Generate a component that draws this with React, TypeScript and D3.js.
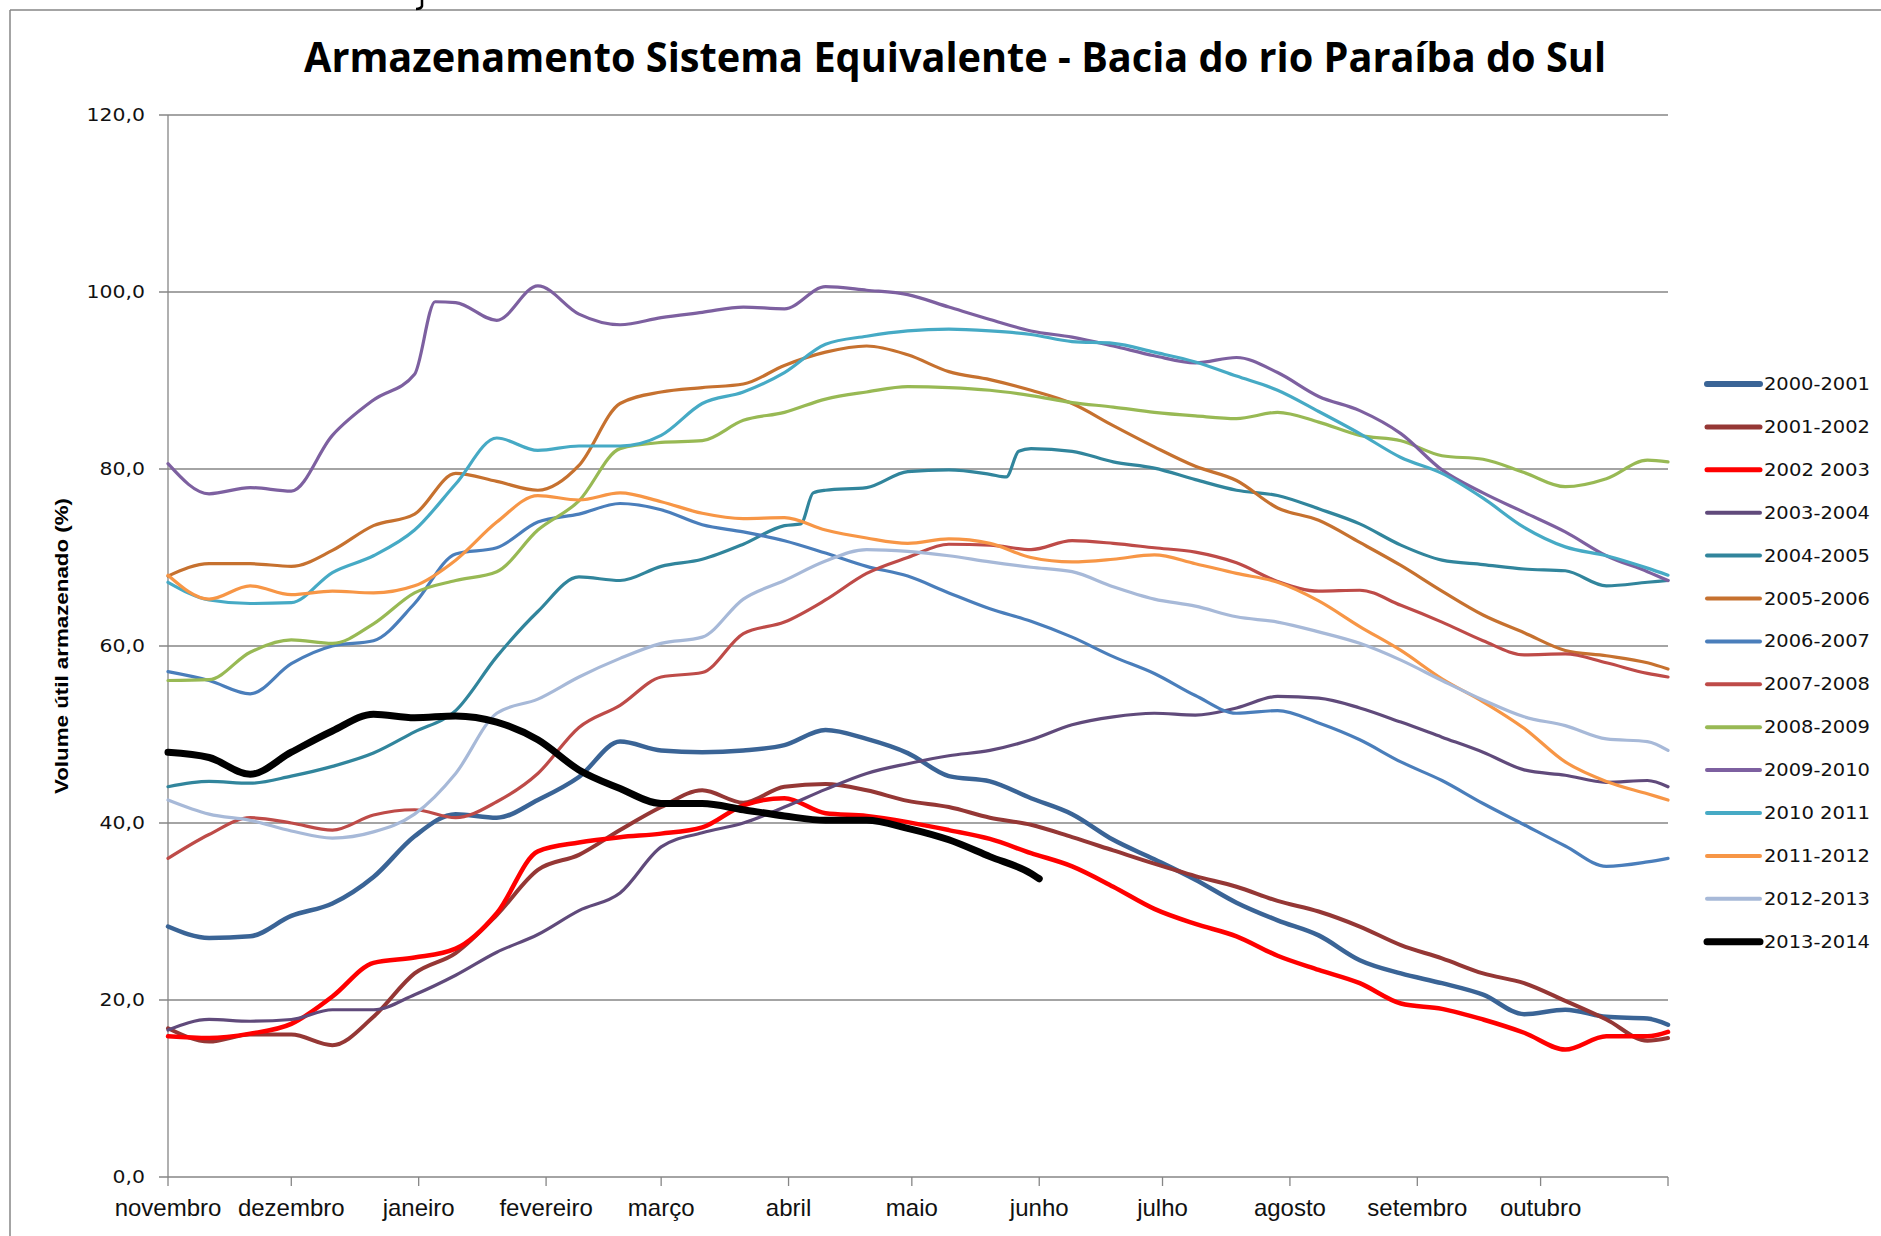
import React from "react";
import * as d3 from "d3";

// meses do ano hidrológico (novembro a outubro)
const meses = ["novembro", "dezembro", "janeiro", "fevereiro", "março", "abril", "maio", "junho", "julho", "agosto", "setembro", "outubro"];

// dias contados a partir de 1º de novembro
const dias = [0, 10, 20, 30, 40, 50, 60, 70, 80, 90, 100, 110, 120, 130, 140, 150, 160, 170, 180, 190, 200, 210, 220, 230, 240, 250, 260, 270, 280, 290, 300, 310, 320, 330, 340, 350, 360, 365];
const dias2004 = [0, 10, 20, 30, 40, 50, 60, 70, 80, 90, 100, 110, 120, 130, 140, 150, 154, 157, 160, 170, 180, 190, 200, 204, 207, 210, 220, 230, 240, 250, 260, 270, 280, 290, 300, 310, 320, 330, 340, 350, 360, 365];
const dias2009 = [0, 10, 20, 30, 40, 50, 60, 65, 70, 80, 90, 100, 110, 120, 130, 140, 150, 160, 170, 180, 190, 200, 210, 220, 230, 240, 250, 260, 270, 280, 290, 300, 310, 320, 330, 340, 350, 360, 365];
const dias2013 = [0, 10, 20, 30, 40, 50, 60, 70, 80, 90, 100, 110, 120, 130, 140, 150, 160, 170, 180, 190, 200, 210, 212];

const anos = ["2000-2001", "2001-2002", "2002 2003", "2003-2004", "2004-2005", "2005-2006", "2006-2007", "2007-2008", "2008-2009", "2009-2010", "2010 2011", "2011-2012", "2012-2013", "2013-2014"];

// volume útil armazenado (%)
const v2000 = [28.3, 27.0, 27.2, 29.5, 30.9, 33.9, 38.5, 41.0, 40.6, 42.6, 45.2, 49.2, 48.2, 48.0, 48.2, 48.8, 50.5, 49.5, 47.9, 45.3, 44.7, 42.8, 41.0, 38.1, 35.9, 33.6, 31.0, 29.0, 27.3, 24.5, 23.0, 21.9, 20.6, 18.4, 18.9, 18.1, 17.9, 17.2];
const v2001 = [16.8, 15.3, 16.1, 16.1, 14.9, 18.1, 23.0, 25.3, 29.6, 34.7, 36.4, 39.2, 41.8, 43.7, 42.3, 44.1, 44.4, 43.7, 42.5, 41.8, 40.6, 39.8, 38.4, 36.9, 35.4, 34.0, 32.8, 31.2, 30.0, 28.3, 26.2, 24.7, 23.0, 21.9, 19.9, 17.8, 15.4, 15.7];
const v2002 = [15.9, 15.7, 16.2, 17.3, 20.4, 24.2, 24.8, 25.8, 29.8, 36.8, 37.8, 38.4, 38.8, 39.5, 42.0, 42.8, 41.1, 40.8, 40.1, 39.2, 38.2, 36.6, 35.1, 32.8, 30.3, 28.6, 27.2, 25.0, 23.4, 21.9, 19.6, 19.0, 17.8, 16.3, 14.4, 15.9, 15.9, 16.4];
const v2003 = [16.6, 17.8, 17.6, 17.8, 18.9, 18.9, 20.6, 22.8, 25.4, 27.4, 30.1, 32.1, 37.3, 38.9, 40.0, 41.8, 43.8, 45.6, 46.7, 47.6, 48.2, 49.4, 51.1, 52.0, 52.4, 52.2, 53.0, 54.3, 54.1, 53.0, 51.4, 49.7, 48.0, 46.0, 45.4, 44.6, 44.8, 44.1];
const v2004 = [44.1, 44.7, 44.5, 45.3, 46.4, 47.9, 50.3, 52.7, 58.8, 63.9, 67.8, 67.4, 69.0, 69.8, 71.5, 73.6, 73.8, 77.3, 77.6, 77.9, 79.7, 79.9, 79.4, 79.1, 82.0, 82.3, 82.0, 80.8, 80.1, 78.8, 77.6, 77.0, 75.5, 73.8, 71.4, 69.7, 69.2, 68.7, 68.5, 66.8, 67.2, 67.4];
const v2005 = [67.9, 69.3, 69.3, 69.0, 70.8, 73.6, 74.9, 79.5, 78.6, 77.6, 80.4, 87.4, 88.7, 89.2, 89.6, 91.7, 93.2, 93.9, 92.9, 91.0, 90.1, 88.9, 87.4, 84.9, 82.5, 80.3, 78.7, 75.6, 74.2, 71.7, 69.1, 66.2, 63.5, 61.5, 59.5, 58.9, 58.1, 57.4];
const v2006 = [57.1, 56.1, 54.6, 58.0, 60.0, 60.6, 64.8, 70.4, 71.1, 74.0, 74.9, 76.1, 75.4, 73.7, 72.9, 71.9, 70.5, 69.0, 67.9, 66.0, 64.2, 62.8, 61.0, 58.8, 56.9, 54.4, 52.4, 52.7, 51.3, 49.4, 46.9, 44.8, 42.2, 39.8, 37.4, 35.1, 35.6, 36.0];
const v2007 = [36.0, 38.7, 40.6, 40.0, 39.2, 40.9, 41.5, 40.6, 42.4, 45.6, 50.8, 53.3, 56.5, 57.0, 61.4, 62.7, 65.2, 68.2, 70.0, 71.5, 71.4, 70.9, 71.9, 71.6, 71.1, 70.6, 69.4, 67.3, 66.2, 66.3, 64.6, 62.7, 60.6, 59.0, 59.1, 58.1, 56.9, 56.5];
const v2008 = [56.1, 56.2, 59.3, 60.7, 60.3, 62.5, 66.0, 67.4, 68.4, 73.1, 76.4, 82.3, 83.0, 83.2, 85.5, 86.4, 87.9, 88.7, 89.3, 89.2, 88.9, 88.3, 87.5, 87.0, 86.4, 86.0, 85.7, 86.4, 85.3, 83.8, 83.2, 81.5, 81.1, 79.6, 78.0, 78.9, 81.0, 80.8];
const v2009 = [80.6, 77.2, 77.9, 77.5, 83.8, 87.8, 90.7, 98.9, 98.8, 96.8, 100.7, 97.5, 96.3, 97.1, 97.7, 98.3, 98.1, 100.6, 100.2, 99.7, 98.3, 96.9, 95.6, 94.9, 93.9, 92.8, 92.0, 92.6, 90.9, 88.2, 86.6, 84.0, 79.9, 77.3, 75.1, 72.9, 70.2, 68.4, 67.4];
const v2010 = [67.2, 65.2, 64.8, 64.9, 68.3, 70.2, 73.1, 78.3, 83.5, 82.1, 82.6, 82.6, 83.8, 87.4, 88.7, 90.9, 94.1, 95.0, 95.6, 95.8, 95.6, 95.2, 94.4, 94.2, 93.2, 92.1, 90.5, 88.9, 86.5, 84.0, 81.3, 79.5, 76.7, 73.4, 71.2, 70.2, 68.8, 68.0];
const v2011 = [68.0, 65.3, 66.8, 65.8, 66.2, 66.0, 66.8, 69.7, 74.0, 77.0, 76.5, 77.3, 76.3, 75.0, 74.4, 74.5, 73.1, 72.2, 71.6, 72.1, 71.6, 70.0, 69.5, 69.8, 70.3, 69.3, 68.2, 67.2, 65.1, 62.2, 59.5, 56.3, 53.7, 50.7, 46.9, 44.7, 43.3, 42.6];
const v2012 = [42.6, 41.0, 40.3, 39.1, 38.3, 39.0, 41.0, 45.6, 52.4, 54.0, 56.5, 58.6, 60.3, 61.0, 65.3, 67.4, 69.6, 70.9, 70.7, 70.2, 69.5, 68.9, 68.4, 66.7, 65.3, 64.5, 63.3, 62.7, 61.6, 60.3, 58.4, 56.1, 53.9, 52.0, 51.0, 49.5, 49.2, 48.2];
const v2013 = [48.0, 47.4, 45.5, 48.0, 50.4, 52.3, 51.9, 52.1, 51.4, 49.4, 46.0, 43.9, 42.2, 42.2, 41.5, 40.8, 40.3, 40.3, 39.4, 38.1, 36.2, 34.3, 33.7];

const valores = [v2000, v2001, v2002, v2003, v2004, v2005, v2006, v2007, v2008, v2009, v2010, v2011, v2012, v2013];
const diasSerie = [dias, dias, dias, dias, dias2004, dias, dias, dias, dias, dias2009, dias, dias, dias, dias2013];

const cores = ["#3A6496", "#953735", "#FF0000", "#604A7B", "#31859C", "#C6712F", "#4A7EBB", "#BE4B48", "#98B954", "#7D60A0", "#46AAC5", "#F79646", "#A7B9D8", "#000000"];
const espessuras = [4.5, 4, 4.5, 3.2, 3.2, 3.2, 3.2, 3.2, 3.2, 3.2, 3.2, 3.2, 3.2, 7];
const espessurasLegenda = [6, 5, 5, 4, 4, 4, 4, 4, 4, 4, 4, 4, 4, 7];

const W = 1881;
const H = 1236;
const margem = { left: 168, right: 1668, top: 115, bottom: 1177 };

const inicio = new Date(Date.UTC(2013, 10, 1));
const fim = new Date(Date.UTC(2014, 10, 1));

const x = d3.scaleUtc().domain([inicio, fim]).range([margem.left, margem.right]);
const y = d3.scaleLinear().domain([0, 120]).range([margem.bottom, margem.top]);

const br = d3.formatLocale({ decimal: ",", thousands: ".", grouping: [3], currency: ["R$", ""] });
const fmt = br.format(".1f");

const linha = d3
  .line<[number, number]>()
  .x((d) => x(d3.utcDay.offset(inicio, d[0])))
  .y((d) => y(d[1]))
  .curve(d3.curveMonotoneX);

const GRID = "#868686";

export default function App() {
  const marcasMes = d3.utcMonth.range(inicio, fim).concat([fim]);
  const yTicks = y.ticks(6);

  return (
    <div>
      <style>{`body{margin:0;background:#fff}`}</style>
      <svg width={W} height={H} style={{ display: "block", background: "#fff" }}>
        {/* moldura recortada */}
        <line x1={10} x2={W} y1={10} y2={10} stroke={GRID} strokeWidth={1.5} />
        <line x1={10} x2={10} y1={10} y2={H} stroke={GRID} strokeWidth={1.5} />
        <path d="M422,0 L422,6 Q421,9 416,9" fill="none" stroke="#000" strokeWidth={2.5} />

        <text
          x={955}
          y={72}
          textAnchor="middle"
          fontFamily="'Open Sans', 'Liberation Sans', sans-serif"
          fontWeight="bold"
          fontSize={41}
          textLength={1302}
          lengthAdjust="spacingAndGlyphs"
        >
          Armazenamento Sistema Equivalente - Bacia do rio Paraíba do Sul
        </text>

        {/* grade horizontal e eixo y */}
        {yTicks.map((t) => (
          <g key={t}>
            <line x1={margem.left - 9} x2={margem.right} y1={y(t)} y2={y(t)} stroke={GRID} strokeWidth={1.3} />
            <text
              transform={`translate(145,${y(t)}) scale(1.2,1)`}
              textAnchor="end"
              dominantBaseline="central"
              fontFamily="'DejaVu Sans', Verdana, sans-serif"
              fontSize={17}
              fill="#111"
            >
              {fmt(t)}
            </text>
          </g>
        ))}
        <line x1={margem.left} x2={margem.left} y1={margem.top} y2={margem.bottom} stroke={GRID} strokeWidth={1.3} />

        <text
          transform={`translate(68,646) rotate(-90)`}
          textAnchor="middle"
          fontFamily="'Liberation Sans', Arial, sans-serif"
          fontWeight="bold"
          fontSize={19}
          textLength={296}
          lengthAdjust="spacingAndGlyphs"
        >
          Volume útil armazenado (%)
        </text>

        {/* eixo x */}
        {marcasMes.map((d, i) => (
          <line key={i} x1={x(d)} x2={x(d)} y1={margem.bottom} y2={margem.bottom + 9} stroke={GRID} strokeWidth={1.3} />
        ))}
        {meses.map((m, i) => (
          <text
            key={m}
            x={x(marcasMes[i])}
            y={1216}
            textAnchor="middle"
            fontFamily="'Liberation Sans', Arial, sans-serif"
            fontSize={24}
            fill="#111"
          >
            {m}
          </text>
        ))}

        {/* séries */}
        {valores.map((vals, i) => {
          const ds = diasSerie[i];
          const pts = vals.map((v, j) => [ds[j], v] as [number, number]);
          return (
            <path
              key={anos[i]}
              d={linha(pts) || ""}
              fill="none"
              stroke={cores[i]}
              strokeWidth={espessuras[i]}
              strokeLinejoin="round"
              strokeLinecap="round"
            />
          );
        })}

        {/* legenda */}
        {anos.map((a, i) => {
          const ly = 384 + i * 42.9;
          return (
            <g key={a}>
              <line x1={1707} x2={1760} y1={ly} y2={ly} stroke={cores[i]} strokeWidth={espessurasLegenda[i]} strokeLinecap="round" />
              <text
                x={1764}
                y={ly}
                dominantBaseline="central"
                fontFamily="'DejaVu Sans', Verdana, sans-serif"
                fontSize={17}
                textLength={106}
                lengthAdjust="spacingAndGlyphs"
                fill="#111"
              >
                {a}
              </text>
            </g>
          );
        })}
      </svg>
    </div>
  );
}
